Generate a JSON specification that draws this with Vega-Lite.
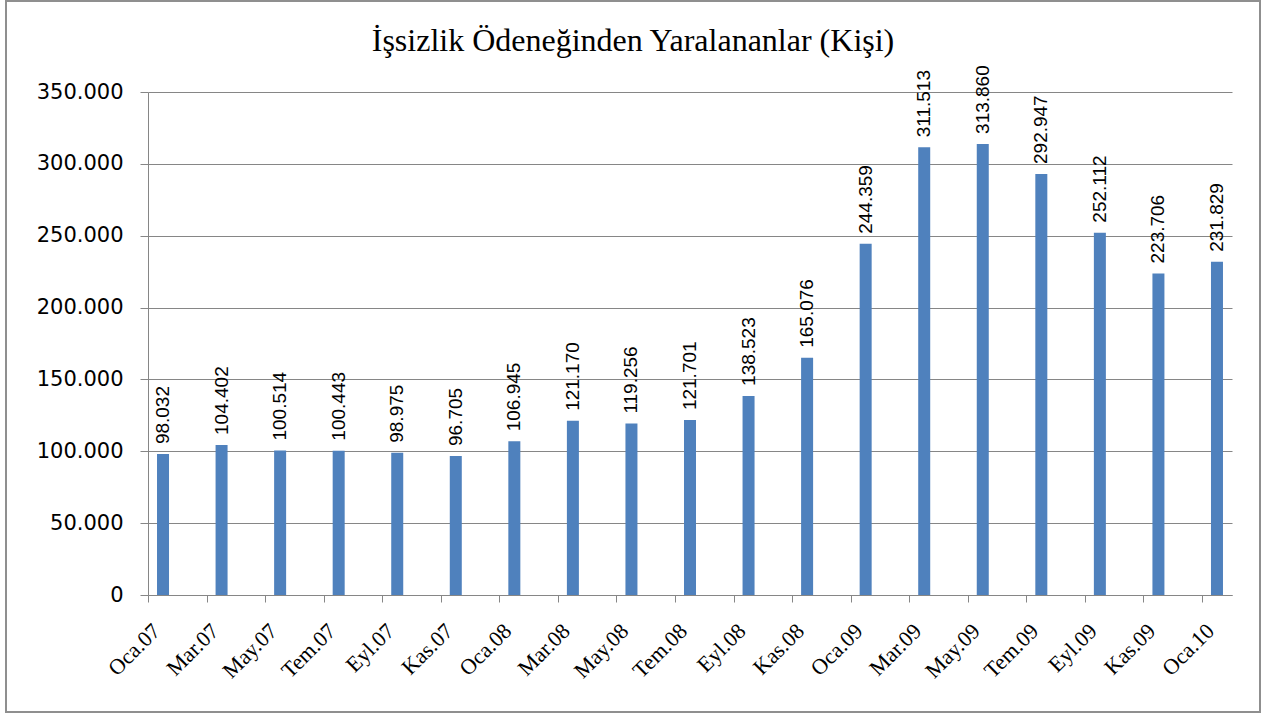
{
  "$schema": "https://vega.github.io/schema/vega-lite/v6.json",
  "autosize": "none",
  "padding": {"left": 6, "top": 1, "right": 2, "bottom": 3},
  "width": 1254,
  "height": 711,
  "background": "white",
  "config": {
    "locale": {"number": {"decimal": ",", "thousands": ".", "grouping": [3], "currency": ["", ""]}},
    "view": {"stroke": "#8f8f8f", "strokeWidth": 2}
  },
  "title": {
    "text": "İşsizlik Ödeneğinden Yaralananlar (Kişi)",
    "font": "Liberation Serif",
    "fontSize": 32,
    "fontWeight": "normal",
    "color": "#000000",
    "anchor": "middle",
    "frame": "group",
    "baseline": "alphabetic",
    "offset": -82
  },
  "data": {
    "values": [
      {"ay": "Oca.07", "kisi": 98032},
      {"ay": "Mar.07", "kisi": 104402},
      {"ay": "May.07", "kisi": 100514},
      {"ay": "Tem.07", "kisi": 100443},
      {"ay": "Eyl.07", "kisi": 98975},
      {"ay": "Kas.07", "kisi": 96705},
      {"ay": "Oca.08", "kisi": 106945},
      {"ay": "Mar.08", "kisi": 121170},
      {"ay": "May.08", "kisi": 119256},
      {"ay": "Tem.08", "kisi": 121701},
      {"ay": "Eyl.08", "kisi": 138523},
      {"ay": "Kas.08", "kisi": 165076},
      {"ay": "Oca.09", "kisi": 244359},
      {"ay": "Mar.09", "kisi": 311513},
      {"ay": "May.09", "kisi": 313860},
      {"ay": "Tem.09", "kisi": 292947},
      {"ay": "Eyl.09", "kisi": 252112},
      {"ay": "Kas.09", "kisi": 223706},
      {"ay": "Oca.10", "kisi": 231829}
    ]
  },
  "encoding": {
    "x": {
      "field": "ay",
      "type": "nominal",
      "sort": null,
      "scale": {"range": [142, 1226], "paddingInner": 0.795, "paddingOuter": 0.154},
      "axis": {
        "title": null,
        "offset": -117,
        "domainColor": "#868686",
        "domainWidth": 1,
        "tickColor": "#868686",
        "tickSize": 7,
        "tickOffset": -15,
        "labelAngle": -45,
        "labelAlign": "right",
        "labelBaseline": "middle",
        "labelPadding": 25,
        "labelOffset": 8,
        "labelFont": "Liberation Serif",
        "labelFontSize": 22,
        "labelColor": "#000000"
      }
    },
    "y": {
      "field": "kisi",
      "type": "quantitative",
      "scale": {"domain": [0, 350000], "range": [594, 91], "nice": false},
      "axis": {
        "title": null,
        "offset": -142,
        "values": [0, 50000, 100000, 150000, 200000, 250000, 300000, 350000],
        "format": ",d",
        "grid": true,
        "gridColor": "#868686",
        "gridWidth": 1,
        "domainColor": "#868686",
        "tickColor": "#868686",
        "tickSize": 8,
        "labelPadding": 17,
        "labelFont": "DejaVu Sans",
        "labelFontSize": 21,
        "labelColor": "#000000"
      }
    }
  },
  "layer": [
    {"mark": {"type": "bar", "color": "#4F81BD"}},
    {
      "mark": {
        "type": "text",
        "angle": 270,
        "align": "left",
        "baseline": "middle",
        "dx": 10,
        "font": "Liberation Sans",
        "fontSize": 19,
        "color": "#000000"
      },
      "encoding": {"text": {"field": "kisi", "type": "quantitative", "format": ",d"}}
    }
  ]
}
